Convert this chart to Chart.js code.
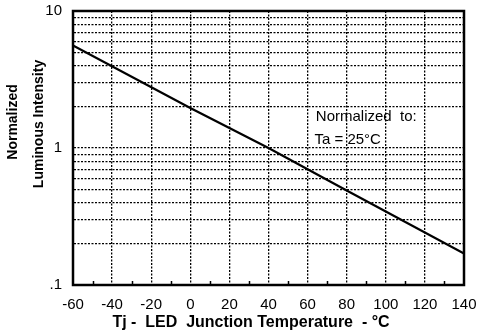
<!DOCTYPE html>
<html>
<head>
<meta charset="utf-8">
<script src="https://cdn.jsdelivr.net/npm/chart.js@4"></script>
<style>
  html, body { margin: 0; padding: 0; background: #fff; }
  #wrap { width: 479px; height: 333px; }
</style>
</head>
<body>
<div id="wrap"><canvas id="chart" width="479" height="333"></canvas></div>
<script>
// values
var temps = [-60, 0, 40, 80, 140];              // Tj (°C)
var intensity = [5.6, 1.96, 1.0, 0.49, 0.17];   // normalized luminous intensity
var yGrid = [0.1, 0.2, 0.3, 0.4, 0.5, 0.6, 0.7, 0.8, 0.9,
             1, 2, 3, 4, 5, 6, 7, 8, 9, 10];
var yTickText = ['.1', '', '', '', '', '', '', '', '',
                 '1', '', '', '', '', '', '', '', '', '10'];
var minorTicks = [-50, -30, -10, 10, 30, 50, 70, 90, 110, 130];

var FONT = '"Liberation Sans", Arial, Helvetica, sans-serif';

// frame, minor ticks and all the loose text
var extras = {
    id: 'extras',
    beforeDraw: function (chart) {
        var c = chart.ctx;
        c.save();
        c.fillStyle = '#fff';
        c.fillRect(0, 0, chart.width, chart.height);
        c.restore();
    },
    afterDraw: function (chart) {
        var c = chart.ctx, a = chart.chartArea;
        var xs = chart.scales.x, ys = chart.scales.y;
        c.save();
        // plot frame
        c.strokeStyle = '#000';
        c.lineWidth = 2.5;
        c.strokeRect(a.left, a.top, a.right - a.left, a.bottom - a.top);
        // small inward ticks on the bottom axis
        c.lineWidth = 1.5;
        minorTicks.forEach(function (v) {
            var px = Math.round(xs.getPixelForValue(v)) + 0.5;
            c.beginPath();
            c.moveTo(px, a.bottom);
            c.lineTo(px, a.bottom - 4);
            c.stroke();
        });
        c.fillStyle = '#000';
        // note inside the plot
        c.font = '15px ' + FONT;
        c.textAlign = 'center';
        c.textBaseline = 'middle';
        c.fillText('Normalized  to:', xs.getPixelForValue(90), ys.getPixelForValue(1.68));
        c.fillText('Ta = 25\u00B0C', xs.getPixelForValue(80.5), ys.getPixelForValue(1.155));
        // x axis title
        c.font = 'bold 16px ' + FONT;
        c.fillText('Tj -  LED  Junction Temperature  - \u00B0C', 251, 323);
        // y axis title (two lines)
        c.font = 'bold 14px ' + FONT;
        c.translate(13, 122);
        c.rotate(-Math.PI / 2);
        c.fillText('Normalized', 0, 0);
        c.fillText('Luminous Intensity', -2, 26);
        c.restore();
    }
};

var chart = new Chart(document.getElementById('chart'), {
    type: 'scatter',
    data: {
        datasets: [{
            data: temps.map(function (t, i) { return { x: t, y: intensity[i] }; }),
            showLine: true,
            borderColor: '#000',
            borderWidth: 2.2,
            pointRadius: 0,
            tension: 0
        }]
    },
    options: {
        responsive: false,
        animation: false,
        layout: { padding: { top: 11, right: 15, left: 0, bottom: 0 } },
        plugins: {
            legend: { display: false },
            tooltip: { enabled: false }
        },
        scales: {
            x: {
                type: 'linear',
                min: -60,
                max: 140,
                ticks: {
                    stepSize: 20,
                    color: '#000',
                    padding: 11,
                    font: { family: FONT, size: 15 }
                },
                grid: { color: '#000', lineWidth: 1.3, drawTicks: false },
                border: { display: true, color: '#000', width: 2, dash: [2, 1.5] },
                afterFit: function (s) {
                    s.height = 48;
                    s.paddingLeft = 0;
                    s.paddingRight = 0;
                }
            },
            y: {
                type: 'logarithmic',
                min: 0.1,
                max: 10,
                afterBuildTicks: function (s) {
                    s.ticks = yGrid.map(function (v) { return { value: v }; });
                },
                ticks: {
                    autoSkip: false,
                    color: '#000',
                    padding: 11,
                    font: { family: FONT, size: 15 },
                    callback: function (value, index) { return yTickText[index]; }
                },
                grid: { color: '#000', lineWidth: 1.3, drawTicks: false },
                border: { display: true, color: '#000', width: 2, dash: [2, 1.5] },
                afterFit: function (s) {
                    s.width = 73;
                    s.paddingTop = 0;
                    s.paddingBottom = 0;
                }
            }
        }
    },
    plugins: [extras]
});
</script>
</body>
</html>
